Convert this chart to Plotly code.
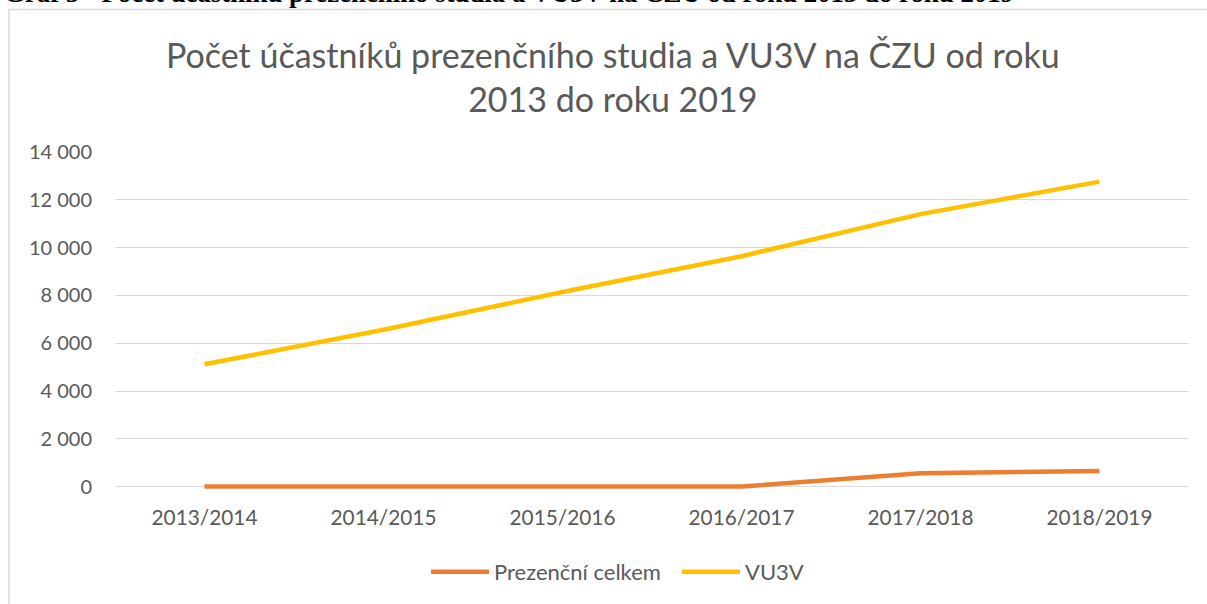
import plotly.graph_objects as go

categories = ["2013/2014", "2014/2015", "2015/2016", "2016/2017", "2017/2018", "2018/2019"]
prezencni = [0, 0, 0, 0, 560, 650]
vu3v = [5120, 6560, 8140, 9640, 11400, 12760]

TEXT = "#595959"
FONT = "Lato"

fig = go.Figure()
fig.add_trace(go.Scatter(x=categories, y=prezencni, mode="lines", name="Prezenční celkem",
                         line=dict(color="#ED7D31", width=4.5)))
fig.add_trace(go.Scatter(x=categories, y=vu3v, mode="lines", name="VU3V",
                         line=dict(color="#FFC000", width=4.5)))

W, H = 1207, 604
L, R, T, B = 115, 18, 152, 114
pw, ph = W - L - R, H - T - B

def px_x(p):
    return (p - L) / pw

def px_y(p):
    return (H - B - p) / ph

fig.update_layout(
    width=W, height=H,
    margin=dict(l=L, r=R, t=T, b=B),
    paper_bgcolor="white", plot_bgcolor="white",
    separators=", ",
    font=dict(family=FONT, color=TEXT, size=20),
    showlegend=True,
    legend=dict(orientation="h", x=px_x(426), xanchor="left", y=px_y(572), yanchor="middle",
                font=dict(size=22, color=TEXT), itemwidth=58, entrywidth=178,
                bgcolor="rgba(0,0,0,0)"),
    xaxis=dict(type="category", range=[-0.5, 5.5], showgrid=False, showline=False, zeroline=False,
               ticks="", tickfont=dict(size=20.8, color=TEXT), ticklabelstandoff=14),
    yaxis=dict(range=[-100, 14000], tickvals=[0, 2000, 4000, 6000, 8000, 10000, 12000, 14000],
               tickformat=",d", showgrid=True, gridcolor="#D9D9D9", gridwidth=1.3,
               zeroline=False, showline=False, ticks="", tickfont=dict(size=20, color=TEXT),
               ticklabelstandoff=22),
    shapes=[dict(type="rect", xref="paper", yref="paper", x0=px_x(9), x1=px_x(1217),
                 y0=px_y(640), y1=px_y(9), line=dict(color="#D9D9D9", width=1.5),
                 fillcolor="rgba(0,0,0,0)", layer="below")],
    annotations=[
        dict(text="Počet účastníků prezenčního studia a VU3V na ČZU od roku<br>2013 do roku 2019",
             xref="paper", yref="paper", x=px_x(613), y=px_y(76.5), xanchor="center", yanchor="middle",
             showarrow=False, font=dict(family=FONT, size=34, color=TEXT), align="center"),
        dict(text="<b>Graf 5 - Počet účastníků prezenčního studia a VU3V na ČZU od roku 2013 do roku 2019</b>",
             xref="paper", yref="paper", x=px_x(2), y=px_y(10), xanchor="left", yanchor="bottom",
             showarrow=False, font=dict(family="Liberation Serif", size=26.8, color="black")),
    ],
)

fig.write_html("out.html", config={"displayModeBar": False},
               post_script="document.body.style.margin='0';")
